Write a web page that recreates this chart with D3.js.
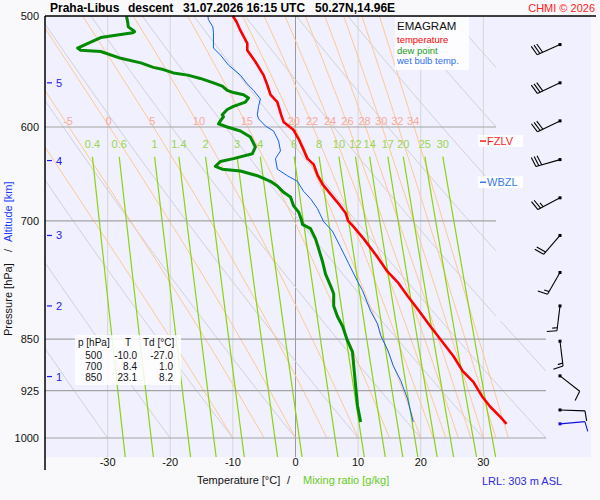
<!DOCTYPE html>
<html>
<head>
<meta charset="utf-8">
<script src="https://cdn.jsdelivr.net/npm/d3@7"></script>
<style>
  body { margin: 0; background: #f9f9fb; }
  svg { display: block; font-family: "Liberation Sans", Arial, sans-serif; }
</style>
</head>
<body>
<div id="chart"></div>
<script>
// sounding: temperature, dew point, wet bulb (p in hPa, T in degC)
const tempP = [500,505,512,523,529,539,551,560,569,576,588,595,603,612,623,632,638,649,659,670,679,691,700,707,721,743,761,774,792,809,832,850,874,896,912,934,950,966,977];
const tempT = [-10.0,-9.4,-8.8,-7.7,-7.7,-6.4,-5.1,-4.5,-4.0,-2.9,-2.3,-1.9,-0.3,0.5,1.3,1.9,2.9,3.5,4.3,5.6,6.7,8.0,8.4,9.3,10.9,13.1,14.7,16.3,17.9,19.5,21.5,23.1,25.2,26.7,28.4,29.8,31.1,32.7,33.7];

const dewP = [500,505,509,512,513,514,518,522,527,529,530,536,540,544,546,549,551,554,558,561,565,567,569,572,576,580,583,588,590,594,597,600,604,610,620,627,632,635,640,643,645,650,656,661,668,673,683,690,700,704,709,721,733,748,764,779,789,805,819,832,850,868,888,918,948,974];
const dewT = [-27.0,-26.8,-26.7,-25.9,-25.7,-26.0,-31.1,-32.7,-34.8,-34.3,-31.1,-27.9,-24.7,-22.7,-21.1,-19.5,-17.2,-15.2,-13.1,-11.7,-10.9,-9.9,-8.3,-7.5,-8.0,-9.9,-10.9,-11.7,-11.5,-12.0,-12.3,-10.9,-8.8,-7.2,-6.4,-6.9,-9.9,-12.0,-12.8,-11.7,-8.8,-6.1,-4.0,-2.9,-1.9,-0.8,-0.3,0.5,1.0,1.1,2.4,3.2,3.7,4.3,4.8,5.6,6.1,6.1,6.7,7.5,8.2,9.1,9.3,9.6,9.9,10.4];

const wetP = [500,503,509,514,527,533,542,551,559,565,573,580,588,592,599,604,614,624,632,643,650,656,667,675,686,701,712,731,751,773,785,812,829,845,867,888,910,938,974];
const wetT = [-14.0,-13.9,-13.2,-13.1,-13.1,-12.0,-10.7,-8.8,-7.7,-6.7,-5.6,-5.9,-6.1,-5.9,-4.8,-3.5,-2.7,-2.4,-3.2,-2.9,-1.3,0.3,1.3,2.4,3.5,4.5,5.9,7.2,8.5,9.9,10.7,12.0,13.1,13.6,14.8,15.6,16.8,17.9,18.8];

// winds every 500 m
const windP = [524,558,594,633,674,717,762,805,853,903,955];
const windDir = [246,245,244,254,242,221,210,187,173,128,92];
const windSpd = [30,30,30,30,25,20,15,15,15,10,10];
const sfcWind = { p: 977, dir: 85, spd: 10 };

// axes
const pressureTicks = [500,600,700,850,925,1000];
const tempTicks = [-30,-20,-10,0,10,20,30];
const kmTicks = [1,2,3,4,5];
const kmP = [904,805,717,634,558];

// diagram isolines
const dryTheta = [-30,-20,-10,0,10,20,30,40,50,60,70,80,90,100];
const wetTheta = [-10,-5,0,5,10,15,20,22,24,26,28,30,32,34];
const mixRatios = [0.4,0.6,1,1.4,2,3,4,6,8,10,12,14,17,20,25,30];

// table
const tableP = [500,700,850];
const tableT = ['-10.0','8.4','23.1'];
const tableTd = ['-27.0','1.0','8.2'];

const fzlvP = 614;
const wbzlP = 657;

const W = 600, H = 500;
const pBot = 1032;

const x = d3.scaleLinear().domain([-40, 40]).range([45, 546]);
const y = d3.scaleLog().domain([500, 1000]).range([16, 438]);

const svg = d3.select('#chart').append('svg')
  .attr('width', W).attr('height', H);

svg.append('rect').attr('width', W).attr('height', H).attr('fill', '#f9f9fb');

// plot background incl. wind column
svg.append('rect')
  .attr('x', x(-40)).attr('y', y(500))
  .attr('width', 591 - x(-40)).attr('height', y(pBot) - y(500))
  .attr('fill', '#f0f0fe');

// clip of the diagram (narrower above 825 hPa)
const yStep = y(825);
svg.append('clipPath').attr('id', 'diag')
  .append('polygon')
  .attr('points', [
    [x(-40), y(500)], [x(32), y(500)], [x(32), yStep],
    [x(40), yStep], [x(40), y(pBot)], [x(-40), y(pBot)]
  ].map(d => d.join(',')).join(' '));

const diag = svg.append('g').attr('clip-path', 'url(#diag)');

const line = d3.line().x(d => x(d[1])).y(d => y(d[0]));

// vertical temperature grid
diag.selectAll('.vgrid').data(tempTicks).enter().append('line')
  .attr('x1', d => x(d)).attr('x2', d => x(d))
  .attr('y1', y(500)).attr('y2', y(pBot))
  .attr('stroke', d => d === 0 ? '#9a9a9a' : '#d6d6d6')
  .attr('stroke-width', 1);

// dry adiabats
const dryLines = dryTheta.map(th => {
  const pts = [];
  for (let p = 1000; p >= 500; p -= 5) {
    pts.push([p, (th + 273.15) * Math.pow(p / 1000, 0.2857) - 273.15]);
  }
  return pts;
});
diag.selectAll('.dry').data(dryLines).enter().append('path')
  .attr('d', line).attr('fill', 'none')
  .attr('stroke', '#d0d0d4').attr('stroke-width', 1);

// saturated adiabats
function es(tc) { return 6.112 * Math.exp(17.67 * tc / (tc + 243.5)); }
function dTdp(p, tk) {
  const e = es(tk - 273.15);
  const rs = 0.622 * e / (p - e);
  const Lv = 2.501e6, Rd = 287.04, cp = 1005.7;
  return (Rd * tk + Lv * rs) / (p * (cp + Lv * Lv * rs * 0.622 / (Rd * tk * tk)));
}
const wetLines = wetTheta.map(th => {
  const pts = [];
  let T = th + 273.15;
  const h = -5;
  for (let p = 1000; p >= 500; p += h) {
    pts.push([p, T - 273.15]);
    const k1 = dTdp(p, T);
    const k2 = dTdp(p + h / 2, T + h / 2 * k1);
    const k3 = dTdp(p + h / 2, T + h / 2 * k2);
    const k4 = dTdp(p + h, T + h * k3);
    T += h / 6 * (k1 + 2 * k2 + 2 * k3 + k4);
  }
  return { th: th, pts: pts };
});
diag.selectAll('.wet').data(wetLines).enter().append('path')
  .attr('d', d => line(d.pts)).attr('fill', 'none')
  .attr('stroke', '#ffc88e').attr('stroke-width', 1);

// mixing ratio lines
function tdFromMix(w, p) {
  const e = w * p / (622 + w);
  const a = Math.log(e / 6.112);
  return 243.5 * a / (17.67 - a);
}
const mixTop = 630;
const mixLines = mixRatios.map(w => {
  const pts = [];
  for (let p = mixTop; p <= pBot; p += 6) pts.push([p, tdFromMix(w, p)]);
  pts.push([pBot, tdFromMix(w, pBot)]);
  return pts;
});
diag.selectAll('.mix').data(mixLines).enter().append('path')
  .attr('d', line).attr('fill', 'none')
  .attr('stroke', '#8ad40a').attr('stroke-width', 1.2);

// horizontal pressure grid
diag.selectAll('.hgrid').data(pressureTicks.slice(1)).enter().append('line')
  .attr('x1', x(-40)).attr('x2', x(40))
  .attr('y1', d => y(d)).attr('y2', d => y(d))
  .attr('stroke', '#a4a4a4').attr('stroke-width', 1.2);

// wet adiabat labels on the 600 hPa line
const t600 = d => d.pts.find(q => q[0] === 600)[1];
svg.selectAll('.wetlab').data(wetLines.filter(d => x(t600(d)) > x(-40) + 8))
  .enter().append('text')
  .attr('x', d => x(t600(d)) - 1)
  .attr('y', y(600) - 2)
  .attr('text-anchor', 'middle')
  .attr('font-size', 11).attr('fill', '#f6aa9c')
  .text(d => d.th);

// mixing ratio labels
svg.selectAll('.mixlab').data(mixRatios).enter().append('text')
  .attr('x', d => x(tdFromMix(d, mixTop)))
  .attr('y', y(mixTop) - 9)
  .attr('text-anchor', 'middle')
  .attr('font-size', 11).attr('fill', '#9ad64c')
  .text(d => d);

// profiles
const zip = (ps, ts) => ps.map((p, i) => [p, ts[i]]);
svg.append('path').datum(zip(wetP, wetT))
  .attr('d', line).attr('fill', 'none')
  .attr('stroke', '#1060f0').attr('stroke-width', 1);
svg.append('path').datum(zip(dewP, dewT))
  .attr('d', line).attr('fill', 'none')
  .attr('stroke', '#008a00').attr('stroke-width', 3)
  .attr('stroke-linejoin', 'round');
svg.append('path').datum(zip(tempP, tempT))
  .attr('d', line).attr('fill', 'none')
  .attr('stroke', '#ff0000').attr('stroke-width', 2.6)
  .attr('stroke-linejoin', 'round');

// frame
svg.append('line').attr('x1', x(-40)).attr('x2', 596)
  .attr('y1', y(500)).attr('y2', y(500))
  .attr('stroke', '#000').attr('stroke-width', 1.5);
svg.append('line').attr('x1', x(-40)).attr('x2', x(-40))
  .attr('y1', y(500)).attr('y2', 470)
  .attr('stroke', '#000').attr('stroke-width', 1.5);

// pressure labels
svg.selectAll('.plab').data(pressureTicks).enter().append('text')
  .attr('x', 39).attr('y', d => y(d) + 4)
  .attr('text-anchor', 'end').attr('font-size', 11).attr('fill', '#111')
  .text(d => d);

// temperature labels
svg.selectAll('.tlab').data(tempTicks).enter().append('text')
  .attr('x', d => x(d)).attr('y', 466)
  .attr('text-anchor', 'middle').attr('font-size', 11).attr('fill', '#111')
  .text(d => d);

// altitude ticks
const km = svg.selectAll('.km').data(kmTicks).enter().append('g');
km.append('line')
  .attr('x1', 47).attr('x2', 52)
  .attr('y1', (d, i) => y(kmP[i])).attr('y2', (d, i) => y(kmP[i]))
  .attr('stroke', '#1a1aee').attr('stroke-width', 1.2);
km.append('text')
  .attr('x', 56).attr('y', (d, i) => y(kmP[i]) + 4)
  .attr('font-size', 11).attr('fill', '#1a1aee')
  .text(d => d);

// freezing / wet bulb zero levels
function levelLabel(p, name, color) {
  const yc = y(p);
  svg.append('rect').attr('x', 478).attr('y', yc - 6)
    .attr('width', 45).attr('height', 12)
    .attr('fill', '#fff').attr('opacity', 0.9);
  svg.append('line').attr('x1', 480).attr('x2', 486)
    .attr('y1', yc).attr('y2', yc)
    .attr('stroke', color).attr('stroke-width', 1.5);
  svg.append('text').attr('x', 487).attr('y', yc + 4)
    .attr('font-size', 11).attr('fill', color).text(name);
}
levelLabel(fzlvP, 'FZLV', '#ff1a1a');
levelLabel(wbzlP, 'WBZL', '#3a78e6');

// wind barbs
function barb(p, dir, spd, color) {
  const cx = 560, cy = y(p);
  const r = dir * Math.PI / 180;
  const ux = Math.sin(r), uy = -Math.cos(r);
  const ex = cx + ux * 25, ey = cy + uy * 25;
  const px = -uy, py = ux;
  const g = svg.append('g').attr('stroke', color).attr('stroke-width', 1.1);
  g.append('line').attr('x1', cx).attr('y1', cy).attr('x2', ex).attr('y2', ey);
  const n = Math.round(spd / 5);
  const full = Math.floor(n / 2), half = n % 2;
  let pos = 0;
  for (let i = 0; i < full; i++) {
    const sx = ex - ux * pos, sy = ey - uy * pos;
    g.append('line').attr('x1', sx).attr('y1', sy)
      .attr('x2', sx + px * 10 + ux * 2).attr('y2', sy + py * 10 + uy * 2);
    pos += 3;
  }
  if (half) {
    const sx = ex - ux * pos, sy = ey - uy * pos;
    g.append('line').attr('x1', sx).attr('y1', sy)
      .attr('x2', sx + px * 5 + ux * 1).attr('y2', sy + py * 5 + uy * 1);
  }
  svg.append('rect').attr('x', cx - 1.5).attr('y', cy - 1.5)
    .attr('width', 3).attr('height', 3).attr('fill', color);
}
windP.forEach((p, i) => barb(p, windDir[i], windSpd[i], '#000'));
barb(sfcWind.p, sfcWind.dir, sfcWind.spd, '#1010e0');

// legend
svg.append('rect').attr('x', 395).attr('y', 17).attr('width', 74).attr('height', 53)
  .attr('fill', '#fff').attr('opacity', 0.85);
svg.append('text').attr('x', 397).attr('y', 30).attr('font-size', 11.5)
  .attr('fill', '#111').text('EMAGRAM');
const legendItems = [['temperature', '#ff0000'], ['dew point', '#1a9a1a'], ['wet bulb temp.', '#3070f0']];
svg.selectAll('.leg').data(legendItems).enter().append('text')
  .attr('x', 397).attr('y', (d, i) => 43 + i * 10.5)
  .attr('font-size', 9.5).attr('fill', d => d[1])
  .text(d => d[0]);

// data table
svg.append('rect').attr('x', 75).attr('y', 335).attr('width', 106).attr('height', 50)
  .attr('fill', '#fff').attr('opacity', 0.85);
const tab = svg.append('g').attr('font-size', 10).attr('fill', '#111');
tab.append('text').attr('x', 78).attr('y', 346).text('p [hPa]');
tab.append('text').attr('x', 128).attr('y', 346).attr('text-anchor', 'middle').text('T');
tab.append('text').attr('x', 143).attr('y', 346).text('Td [°C]');
tableP.forEach((p, i) => {
  const yy = 359 + i * 11;
  tab.append('text').attr('x', 102).attr('y', yy).attr('text-anchor', 'end').text(p);
  tab.append('text').attr('x', 137).attr('y', yy).attr('text-anchor', 'end').text(tableT[i]);
  tab.append('text').attr('x', 173).attr('y', yy).attr('text-anchor', 'end').text(tableTd[i]);
});

// title
const title = svg.append('g').attr('font-size', 12).attr('font-weight', 'bold').attr('fill', '#000');
title.append('text').attr('x', 50).attr('y', 12).text('Praha-Libus');
title.append('text').attr('x', 128).attr('y', 12).text('descent');
title.append('text').attr('x', 183).attr('y', 12).text('31.07.2026 16:15 UTC');
title.append('text').attr('x', 315).attr('y', 12).text('50.27N,14.96E');
svg.append('text').attr('x', 595).attr('y', 12).attr('text-anchor', 'end')
  .attr('font-size', 11).attr('fill', '#ff2020').text('CHMI © 2026');

// axis titles
svg.append('text').attr('x', 197).attr('y', 484).attr('font-size', 11)
  .attr('fill', '#111').text('Temperature [°C]');
svg.append('text').attr('x', 287).attr('y', 484).attr('font-size', 11)
  .attr('fill', '#111').text('/');
svg.append('text').attr('x', 303).attr('y', 484).attr('font-size', 11)
  .attr('fill', '#66cc22').text('Mixing ratio [g/kg]');

svg.append('text').attr('transform', 'translate(12,336) rotate(-90)')
  .attr('font-size', 11).attr('fill', '#111').text('Pressure [hPa]');
svg.append('text').attr('transform', 'translate(12,252) rotate(-90)')
  .attr('font-size', 11).attr('fill', '#111').text('/');
svg.append('text').attr('transform', 'translate(12,242) rotate(-90)')
  .attr('font-size', 11).attr('fill', '#1a3cff').text('Altitude [km]');

svg.append('text').attr('x', 482).attr('y', 485).attr('font-size', 11)
  .attr('fill', '#2b2bdd').text('LRL: 303 m ASL');
</script>
</body>
</html>
